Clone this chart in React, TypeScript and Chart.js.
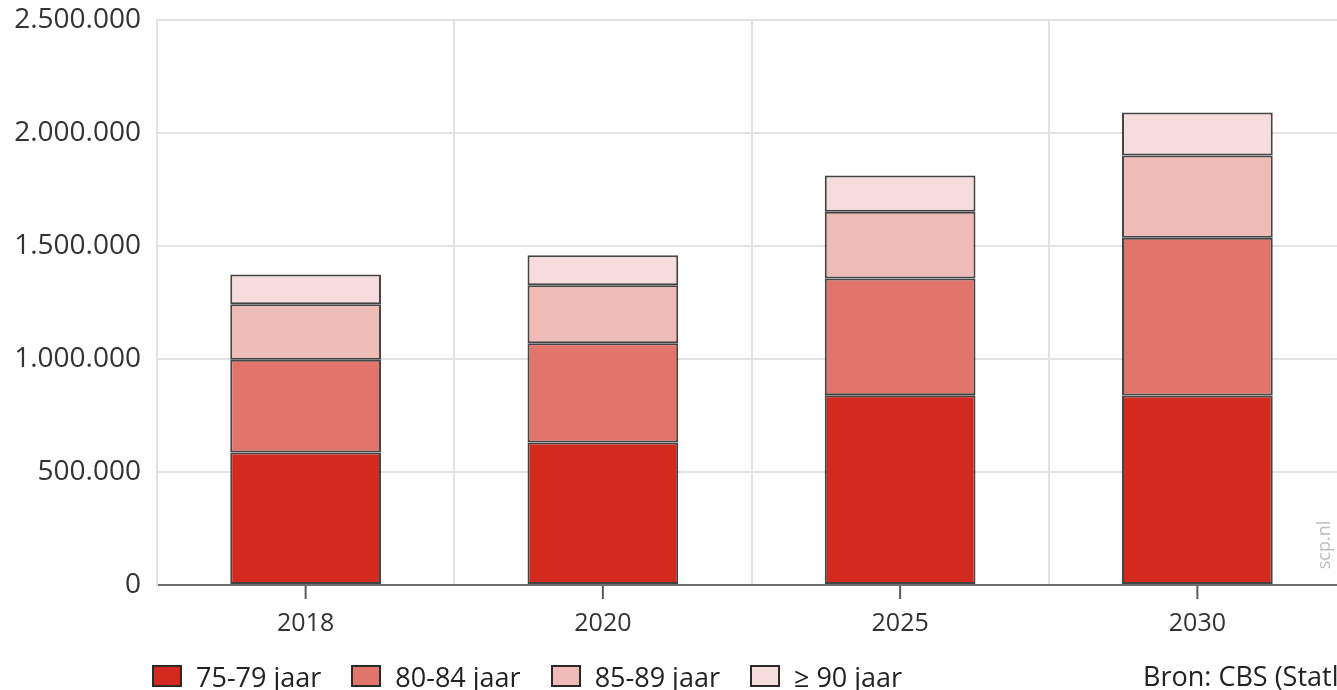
import React, { useEffect, useRef } from "react";
import { Chart, registerables } from "chart.js";

Chart.register(...registerables);

const categories = ["2018", "2020", "2025", "2030"];
const seriesLabels = ["75-79 jaar", "80-84 jaar", "85-89 jaar", "≥ 90 jaar"];
const age7579 = [586000, 631000, 840000, 839000];
const age8084 = [411000, 439000, 516000, 697000];
const age8589 = [245000, 256000, 296000, 364000];
const age90plus = [132000, 133000, 160000, 191000];
const seriesColors = ["#D3291E", "#E1746B", "#EFBBB7", "#F6DCDD"];
const yTicks = [0, 500000, 1000000, 1500000, 2000000, 2500000];
const sourceText = "Bron: CBS (Statline)";
const watermark = "scp.nl";

const FONT = "'Open Sans', 'DejaVu Sans', sans-serif";

function fmt(v: number): string {
  return String(Math.round(v)).replace(/\B(?=(\d{3})+(?!\d))/g, ".");
}

const extrasPlugin = {
  id: "extras",
  afterDraw(chart: any) {
    const ctx = chart.ctx;
    const x = chart.scales.x;
    const area = chart.chartArea;
    ctx.save();
    ctx.strokeStyle = "#5a5a5a";
    ctx.lineWidth = 2;
    for (let i = 0; i < categories.length; i++) {
      const px = x.getPixelForValue(i);
      ctx.beginPath();
      ctx.moveTo(px, area.bottom + 1);
      ctx.lineTo(px, area.bottom + 14);
      ctx.stroke();
    }
    ctx.translate(area.right - 21, area.bottom - 40);
    ctx.rotate(-Math.PI / 2);
    ctx.fillStyle = "#bdbdbd";
    ctx.font = `18px ${FONT}`;
    ctx.textAlign = "center";
    ctx.textBaseline = "middle";
    ctx.fillText(watermark, 0, 0);
    ctx.restore();
  },
};

export default function App() {
  const canvasRef = useRef<HTMLCanvasElement | null>(null);

  useEffect(() => {
    if (!canvasRef.current) return;
    const seriesData = [age7579, age8084, age8589, age90plus];
    const chart = new Chart(canvasRef.current, {
      type: "bar",
      data: {
        labels: categories,
        datasets: seriesData.map((d, i) => ({
          label: seriesLabels[i],
          data: d,
          backgroundColor: seriesColors[i],
          borderColor: "rgba(35,35,35,0.85)",
          borderWidth: 2,
          borderSkipped: false,
          categoryPercentage: 1,
          barPercentage: 0.507,
        })),
      },
      options: {
        animation: false,
        responsive: false,
        maintainAspectRatio: false,
        layout: { padding: { top: 20, right: 14, bottom: 2, left: 0 } },
        plugins: {
          legend: { display: false },
          tooltip: { enabled: false },
        },
        scales: {
          x: {
            stacked: true,
            grid: {
              offset: true,
              color: "#e2e2e2",
              lineWidth: 2,
              drawTicks: false,
            },
            border: { display: true, color: "#6e6e6e", width: 2 },
            ticks: {
              padding: 24,
              color: "#333",
              font: { family: FONT, size: 25 },
            },
          },
          y: {
            stacked: true,
            min: 0,
            max: 2500000,
            afterBuildTicks: (scale: any) => {
              scale.ticks = yTicks.map((v) => ({ value: v }));
            },
            afterFit: (scale: any) => {
              scale.width = 157;
              scale.paddingTop = 0;
              scale.paddingBottom = 0;
            },
            grid: { color: "#e2e2e2", lineWidth: 2, drawTicks: false },
            border: { display: true, color: "#e2e2e2", width: 2 },
            ticks: {
              padding: 16,
              color: "#333",
              font: { family: FONT, size: 28 },
              callback: (v: any) => fmt(Number(v)),
            },
          },
        },
      },
      plugins: [extrasPlugin],
    });
    return () => chart.destroy();
  }, []);

  return (
    <div
      style={{
        position: "absolute",
        left: 0,
        top: 0,
        width: 1337,
        height: 690,
        overflow: "hidden",
        background: "#fff",
        fontFamily: FONT,
        color: "#222",
      }}
    >
      <canvas
        ref={canvasRef}
        width={1360}
        height={665}
        style={{ position: "absolute", left: 0, top: 0, width: 1360, height: 665 }}
      />
      <div
        style={{
          position: "absolute",
          left: 152,
          top: 660,
          height: 32,
          display: "flex",
          alignItems: "center",
          fontSize: 27,
          whiteSpace: "nowrap",
        }}
      >
        {seriesLabels.map((l, i) => (
          <div key={l} style={{ display: "flex", alignItems: "center", marginRight: 30 }}>
            <span
              style={{
                display: "inline-block",
                width: 26,
                height: 18,
                background: seriesColors[i],
                border: "2px solid #2a2a2a",
                marginRight: 14,
              }}
            />
            <span>{l}</span>
          </div>
        ))}
      </div>
      <div
        style={{
          position: "absolute",
          left: 1143,
          top: 660,
          height: 32,
          lineHeight: "32px",
          fontSize: 27,
          whiteSpace: "nowrap",
        }}
      >
        {sourceText}
      </div>
    </div>
  );
}
